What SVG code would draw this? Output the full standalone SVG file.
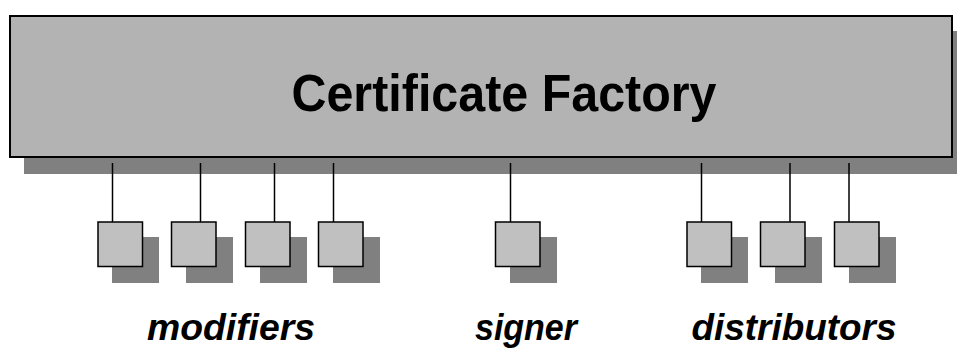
<svg xmlns="http://www.w3.org/2000/svg" width="957" height="349" viewBox="0 0 957 349">
<style>
.shadow{fill:#808080;stroke:none}
.main{fill:#b3b3b3;stroke:#000;stroke-width:2}
.box{fill:#c0c0c0;stroke:#000;stroke-width:1.5}
.conn{stroke:#000;stroke-width:1.5;fill:none}
.title{font-family:"Liberation Sans",Arial,sans-serif;font-weight:bold;font-size:52px;fill:#000}
.label{font-family:"Liberation Sans",Arial,sans-serif;font-weight:bold;font-style:italic;font-size:36px;fill:#000}
</style>
<rect width="957" height="349" fill="#fff"/>
<g id="factory">
<rect class="shadow" x="24" y="31" width="940" height="143"/>
<rect class="main" x="10" y="16" width="942" height="141"/>
<text class="title" x="504" y="111" text-anchor="middle" textLength="425" lengthAdjust="spacingAndGlyphs">Certificate Factory</text>
</g>
<g id="connectors">
<line class="conn" x1="112.5" y1="163" x2="112.5" y2="222"/>
<line class="conn" x1="200.5" y1="163" x2="200.5" y2="222"/>
<line class="conn" x1="274.5" y1="163" x2="274.5" y2="222"/>
<line class="conn" x1="333.5" y1="163" x2="333.5" y2="222"/>
<line class="conn" x1="510.5" y1="163" x2="510.5" y2="222"/>
<line class="conn" x1="701.5" y1="163" x2="701.5" y2="222"/>
<line class="conn" x1="790" y1="163" x2="790" y2="222"/>
<line class="conn" x1="849" y1="163" x2="849" y2="222"/>
</g>
<g id="mod1"><rect class="shadow" x="112" y="237" width="47" height="46"/><rect class="box" x="98" y="222" width="44.5" height="44.5"/></g>
<g id="mod2"><rect class="shadow" x="186" y="237" width="47" height="46"/><rect class="box" x="171.5" y="222" width="44.5" height="44.5"/></g>
<g id="mod3"><rect class="shadow" x="260" y="237" width="47" height="46"/><rect class="box" x="245.5" y="222" width="44.5" height="44.5"/></g>
<g id="mod4"><rect class="shadow" x="333" y="237" width="47" height="46"/><rect class="box" x="318.5" y="222" width="44.5" height="44.5"/></g>
<g id="signer"><rect class="shadow" x="510" y="237" width="47" height="46"/><rect class="box" x="495.5" y="222" width="44.5" height="44.5"/></g>
<g id="dist1"><rect class="shadow" x="701" y="237" width="47" height="46"/><rect class="box" x="687" y="222" width="44.5" height="44.5"/></g>
<g id="dist2"><rect class="shadow" x="775" y="237" width="47" height="46"/><rect class="box" x="760.5" y="222" width="44.5" height="44.5"/></g>
<g id="dist3"><rect class="shadow" x="849" y="237" width="47" height="46"/><rect class="box" x="834.5" y="222" width="44.5" height="44.5"/></g>
<g id="labels">
<text class="label" x="231" y="340" text-anchor="middle" textLength="168" lengthAdjust="spacingAndGlyphs">modifiers</text>
<text class="label" x="526" y="340" text-anchor="middle" textLength="102" lengthAdjust="spacingAndGlyphs">signer</text>
<text class="label" x="794" y="340" text-anchor="middle" textLength="205" lengthAdjust="spacingAndGlyphs">distributors</text>
</g>
</svg>
